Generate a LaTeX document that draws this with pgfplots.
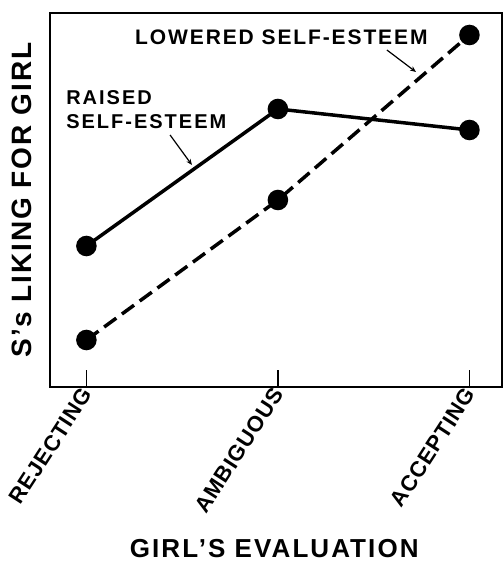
\documentclass[border=0pt]{standalone}
\usepackage{fontspec}
\setmainfont{Liberation Sans}
\usepackage{pgfplots}
\pgfplotsset{compat=1.18}
\usetikzlibrary{arrows.meta}
\newcommand{\fs}[2]{\fontsize{#1}{#1}\selectfont\bfseries\addfontfeature{LetterSpace=#2}}
\begin{document}
\begin{tikzpicture}
\useasboundingbox[fill=white] (0,0) rectangle (504bp,562bp);
\begin{axis}[
  scale only axis,
  width=452bp, height=374bp,
  at={(50bp,175bp)}, anchor=south west,
  xmin=-0.19, xmax=2.17, ymin=0, ymax=374,
  axis line style={line width=1.6bp},
  xtick={0,1,2},
  xticklabels={REJECTING,AMBIGUOUS,ACCEPTING},
  xtick pos=bottom,
  tick align=inside,
  major tick length=17bp,
  xtick style={line width=1.6bp, black},
  ytick=\empty,
  xticklabel style={rotate=57, anchor=east, font=\fs{22bp}{4}, inner sep=2bp, yshift=-2bp},
  xlabel={GIRL'S EVALUATION},
  xlabel style={at={(axis description cs:0.496,-0.433)}, anchor=center, font=\fs{26bp}{8}},
  ylabel={S's LIKING FOR GIRL},
  ylabel style={at={(axis description cs:-0.062,0.5)}, anchor=center, font=\fs{28bp}{7}},
  clip=false,
]
\addplot[black, line width=3.5bp, mark=*, mark size=8.5bp] coordinates {(0,141) (1,278) (2,257)};
\addplot[black, line width=3.5bp, dash pattern=on 15bp off 7bp, mark=*, mark size=8.5bp, mark options={solid}] coordinates {(0,47) (1,187) (2,352)};
\node[anchor=west, font=\fs{21bp}{9}, inner sep=0pt] at (axis cs:0.254,349.5) {LOWERED SELF-ESTEEM};
\node[anchor=north west, align=left, font=\fs{20bp}{10}, inner sep=0pt] at (axis cs:-0.106,297) {RAISED\\[4bp]SELF-ESTEEM};
\draw[line width=1.2bp, -{Stealth[length=6bp,width=5bp]}] (axis cs:0.437,252) -- (axis cs:0.551,222);
\draw[line width=1.2bp, -{Stealth[length=6bp,width=5bp]}] (axis cs:1.569,337) -- (axis cs:1.721,315);
\end{axis}
\end{tikzpicture}
\end{document}
